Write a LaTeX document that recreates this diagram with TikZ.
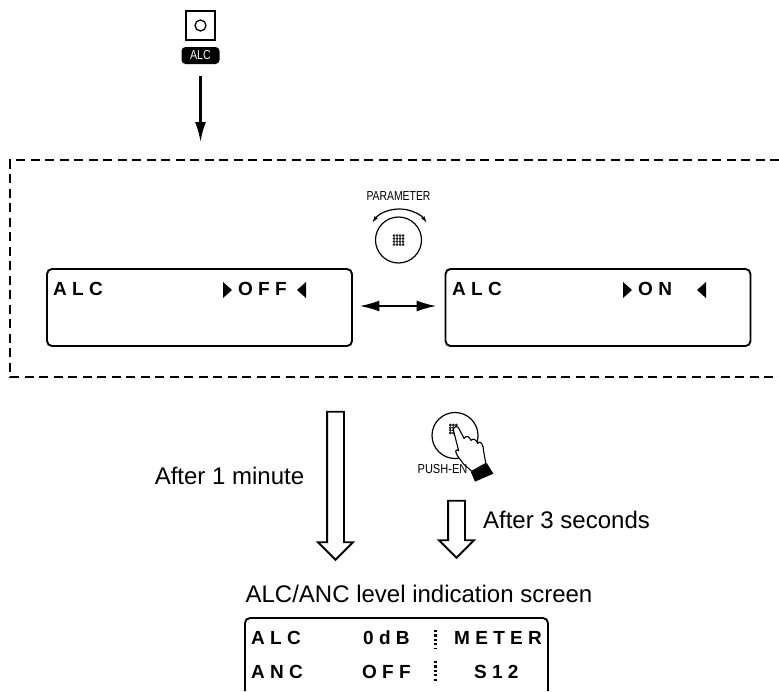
\documentclass[tikz,border=0pt]{standalone}
\usepackage{fontspec}
\setmainfont{Liberation Sans}
\usetikzlibrary{arrows.meta,positioning,shapes.arrows}
\newcommand{\dotgrid}[2]{\foreach \i in {-1.5,-0.5,0.5,1.5} \foreach \j in {-1.5,-0.5,0.5,1.5} \draw[line width=0.7pt] (#1+\i*3,#2+\j*3) circle (1pt);}
\begin{document}
\begin{tikzpicture}[x=1pt,y=-1pt,
  lcd/.style={draw,line width=1.9pt,rounded corners=5pt,inner sep=0pt,minimum width=305pt,minimum height=77pt},
  lcdtext/.style={inner sep=0pt,anchor=base west,font=\fontsize{19}{19}\selectfont\bfseries},
  plain/.style={inner sep=0pt,font=\fontsize{24}{26}\selectfont},
  small/.style={inner sep=0pt,font=\fontsize{13}{13}\selectfont},
  hollow/.style={draw,line width=1.9pt,shape=single arrow,shape border rotate=270,single arrow head extend=9pt,single arrow head indent=0pt,inner sep=7.5pt,minimum width=33pt}]
\useasboundingbox (0,0) rectangle (779,691);
% switch
\node[draw,line width=1.2pt,minimum size=29pt,inner sep=0pt] (sw) at (200.5,25.5) {};
\draw[line width=1.3pt] (sw.center) circle (5.5pt);
\node[fill=black,text=white,rounded corners=4pt,inner sep=0pt,minimum width=38pt,minimum height=17pt,font=\fontsize{13}{13}\selectfont] (alc) at (200.5,55.5) {\scalebox{0.82}[1]{ALC}};
\coordinate (panel) at (200.5,142);
\draw[line width=2.3pt,-{Latex[length=20pt,width=11pt]},shorten <=12pt] (alc.south) -- (panel);
% dashed frame
\draw[line width=1.5pt,dash pattern=on 9pt off 5.5pt] (779,160) -- (10,160) -- (10,377) -- (779,377);
% knob
\node[small] (param) at (398.5,196) {\scalebox{0.8}[1]{PARAMETER}};
\node[draw,circle,line width=1.2pt,minimum size=46pt,inner sep=0pt] (knob) at (398.5,240) {};
\dotgrid{398.5}{240}
\draw[line width=1.2pt,{Latex[length=7pt,width=4pt]}-{Latex[length=7pt,width=4pt]}] (372,223) arc[start angle=144,end angle=36,radius=34pt];
% displays
\node[lcd] (off) at (199.5,307.5) {};
\node[lcd] (on) at (598,307.5) {};
\node[lcdtext] (offname) at (53,295) {A L C};
\node[lcdtext] (offval) at (238,295) {O F F};
\node[lcdtext] (onname) at (452,295) {A L C};
\node[lcdtext] (onval) at (638,295) {O N};
\fill (223,282)--(232,290)--(223,298)--cycle (306,282)--(297,290)--(306,298)--cycle;
\fill (623,282)--(632,290)--(623,298)--cycle (706,282)--(697,290)--(706,298)--cycle;
\draw[line width=2pt,{Latex[length=20pt,width=11pt]}-{Latex[length=20pt,width=11pt]},shorten <=6.5pt,shorten >=8pt] (off.east |- 0,306) -- (on.west |- 0,306);
% hand on the push knob
\node[draw,circle,line width=1.2pt,minimum size=46pt,inner sep=0pt] (push) at (455,435.5) {};
\begin{scope}[shift={(390,380)},x=0.3333pt,y=-0.3333pt]
\foreach \i in {0,1,2} \foreach \j in {0,1,2,3} \draw[line width=0.7pt] (181+\i*9,135+\j*8) circle (1pt);
\draw[line width=1.1pt,fill=white,line join=round] (190,150) .. controls (192,138) and (202,136) .. (207,146) -- (222,175)
  .. controls (228,166) and (238,168) .. (243,181) .. controls (250,174) and (258,178) .. (263,190)
  .. controls (268,182) and (276,188) .. (279,200) .. controls (282,220) and (284,235) .. (288,250)
  -- (245,274) .. controls (235,262) and (222,258) .. (212,240) .. controls (205,232) and (198,222) .. (197,213)
  .. controls (200,208) and (204,208) .. (206,212) -- cycle;
\fill (243,277) -- (291,250) -- (310,281) -- (255,305) -- cycle;
\end{scope}
\node[small] (pushlabel) at (442.5,469.5) {\scalebox{0.85}[1]{PUSH-EN}};
% transitions
\node[hollow,minimum height=148pt] (wait) at (335.5,481.5) {};
\node[hollow,minimum height=57pt] (confirm) at (456.5,525) {};
\node[plain] (waitlabel) at (229.5,476) {After 1 minute};
\node[plain] (confirmlabel) at (566.5,520) {After 3 seconds};
\node[plain] (screenlabel) at (419,594) {ALC/ANC level indication screen};
% level screen
\draw[line width=1.9pt,rounded corners=5pt] (245,691) -- (245,618) -- (548,618) -- (548,691);
\node[lcdtext] (r1a) at (251,644) {A L C};
\node[lcdtext] (r1b) at (363,644) {0 d B};
\node[lcdtext] (r1c) at (454,644) {M E T E R};
\node[lcdtext] (r2a) at (251,678) {A N C};
\node[lcdtext] (r2b) at (362,678) {O F F};
\node[lcdtext] (r2c) at (474,678) {S 1 2};
\draw[line width=2.8pt,dash pattern=on 2.2pt off 2.2pt] (435.5,630) -- (435.5,649) (435.5,661) -- (435.5,681);
\end{tikzpicture}
\end{document}
